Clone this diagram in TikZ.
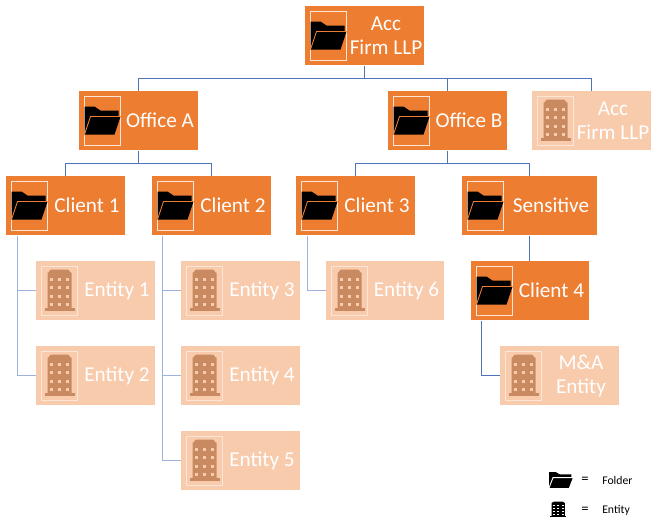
\documentclass[tikz,border=0pt]{standalone}
\usepackage{fontspec}
\setmainfont{Carlito}
\definecolor{org}{HTML}{ED7D31}
\definecolor{lorg}{HTML}{F8CBAD}
\definecolor{bldg}{HTML}{C98A62}
\definecolor{frameL}{HTML}{FBE5D6}
\definecolor{dkline}{HTML}{4F74BC}
\definecolor{ltline}{HTML}{9DB3DE}
\tikzset{
  x=0.75pt,y=-0.75pt,
  orgbox/.style={rectangle,fill=org,inner sep=0pt,anchor=north west},
  entbox/.style={rectangle,fill=lorg,inner sep=0pt,anchor=north west},
  boxtext/.style={text=white,font=\fontsize{15.9pt}{18pt}\selectfont,align=center,inner sep=0pt},
  legtext/.style={text=black,font=\fontsize{8.8pt}{10pt}\selectfont,inner sep=0pt},
  legeq/.style={text=black,font=\fontsize{11pt}{12pt}\selectfont,inner sep=0pt},
  dk/.style={draw=dkline,line width=0.8pt},
  lt/.style={draw=ltline,line width=1pt},
  iconframe/.style={draw=frameL,line width=1pt,fill=none},
  pics/foldershape/.style={code={
    \fill[black] (0,10)--(10,10)--(16,14)--(34,14)--(34,20)--(36,20)--(30,38)--(0,38)--cycle;
    \draw[#1,line width=0.7pt] (0,38)--(6,20)--(36,20);
  }},
  pics/foldericon/.style={code={
    \draw[iconframe] (0,0) rectangle (36,49);
    \pic {foldershape=org};
  }},
  pics/buildingshape/.style n args={2}{code={
    \fill[#1] (6,44)--(6,6) to[out=-70,in=180] (10,3)--(26,3) to[out=0,in=-110] (30,6)--(30,44)--cycle;
    \fill[#1] (3,41)rectangle(33,44);
    \foreach \wy in {13,21,30,38}{\foreach \wx in {10,18,26}{
      \fill[#2] (\wx-1.8,\wy-1.8) rectangle (\wx+1.8,\wy+1.8);}}
  }},
  pics/buildingicon/.style={code={
    \draw[iconframe] (0,0) rectangle (36,49);
    \pic {buildingshape={bldg}{lorg}};
  }},
}
\newcommand{\folderbox}[6]{%
  \node[orgbox,minimum width=#4*0.75pt,minimum height=#5*0.75pt] (#1) at (#2,#3) {};
  \pic at (#2+5.5,#3+5.5) {foldericon};
  \node[boxtext] (#1t) at ({#2+(#4+43)/2},{#3+#5/2}) {#6};
}
\newcommand{\entitybox}[6]{%
  \node[entbox,minimum width=#4*0.75pt,minimum height=#5*0.75pt] (#1) at (#2,#3) {};
  \pic at (#2+5.5,#3+5.5) {buildingicon};
  \node[boxtext] (#1t) at ({#2+(#4+43)/2},{#3+#5/2}) {#6};
}
\begin{document}
\begin{tikzpicture}
\useasboundingbox[fill=white] (0,0) rectangle (658,525);
\folderbox{root}{305}{6}{119}{59}{Acc\\Firm LLP}
\folderbox{oa}{79}{91}{119}{59}{Office A}
\folderbox{ob}{388}{91}{119}{59}{Office B}
\entitybox{acc}{532}{91}{119}{59}{Acc\\Firm LLP}
\folderbox{c1}{6}{176}{119}{59}{Client 1}
\folderbox{c2}{152}{176}{119}{59}{Client 2}
\folderbox{c3}{296}{176}{119}{59}{Client 3}
\folderbox{sens}{462}{176}{135}{59}{Sensitive}
\folderbox{c4}{471}{261}{118}{59}{Client 4}
\entitybox{e1}{36}{261}{119}{59}{Entity 1}
\entitybox{e2}{36}{346}{119}{59}{Entity 2}
\entitybox{e3}{181}{261}{119}{59}{Entity 3}
\entitybox{e4}{181}{346}{119}{59}{Entity 4}
\entitybox{e5}{181}{431}{119}{59}{Entity 5}
\entitybox{e6}{326}{261}{118}{59}{Entity 6}
\entitybox{ma}{500}{346}{119}{59}{M\&A\\Entity}
% tree lines
\coordinate (rbus) at (0,78.5);
\coordinate (abus) at (0,163.5);
\draw[dk] (root.south) -- (root.south |- rbus);
\draw[dk] (oa.north) -- (oa.north |- rbus) -- (acc.north |- rbus) -- (acc.north);
\draw[dk] (ob.north) -- (ob.north |- rbus);
\draw[dk] (oa.south) -- (oa.south |- abus);
\draw[dk] (c1.north) -- (c1.north |- abus) -- (c2.north |- abus) -- (c2.north);
\draw[dk] (ob.south) -- (ob.south |- abus);
\draw[dk] (c3.north) -- (c3.north |- abus) -- (sens.north |- abus) -- (sens.north);
\draw[lt] ([xshift=8.625pt]c1.south west) |- (e1.west);
\draw[lt] ([xshift=8.625pt]c1.south west) |- (e2.west);
\draw[lt] ([xshift=7.875pt]c2.south west) |- (e3.west);
\draw[lt] ([xshift=7.875pt]c2.south west) |- (e4.west);
\draw[lt] ([xshift=7.875pt]c2.south west) |- (e5.west);
\draw[lt] ([xshift=8.625pt]c3.south west) |- (e6.west);
\draw[dk] (sens.south) -- (sens.south |- c4.north);
\draw[dk] ([xshift=7.875pt]c4.south west) |- (ma.west);
% legend
\pic[xscale=0.66,yscale=0.57] at (549,466.3) {foldershape=white};
\pic[xscale=0.55,yscale=0.37] at (548.3,500.6) {buildingshape={black}{white}};
\node[legeq,anchor=center] (eq1) at (585,480) {=};
\node[legeq,anchor=center] (eq2) at (585,510) {=};
\node[legtext,anchor=west] (leg1) at (602,480) {Folder};
\node[legtext,anchor=west] (leg2) at (602,510) {Entity};
\end{tikzpicture}
\end{document}
